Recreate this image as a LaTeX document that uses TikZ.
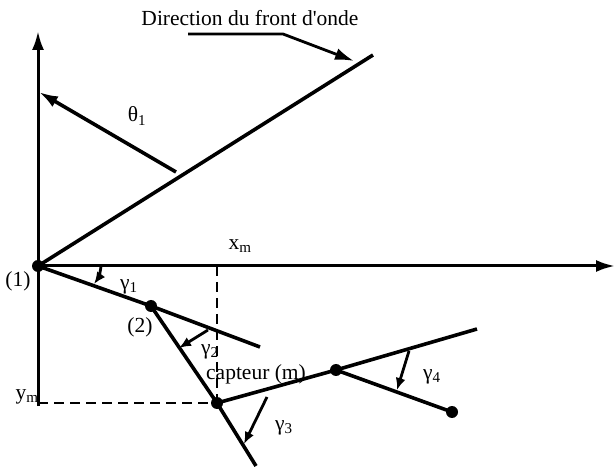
\documentclass[tikz,border=0pt]{standalone}
\usepackage{fontspec}
\setmainfont{Liberation Serif}
\usetikzlibrary{arrows.meta}
\begin{document}
\begin{tikzpicture}[x=1pt,y=-1pt,
  thickline/.style={line width=3.6pt},
  axisline/.style={line width=3pt},
  arr/.style={-{Latex[length=19pt,width=12pt]}},
  smallarr/.style={line width=2.8pt,-{Latex[length=12pt,width=10pt]}},
  dot/.style={circle,fill=black,inner sep=0pt,minimum size=12pt},
  lbl/.style={font=\fontsize{21.5}{24}\selectfont,inner sep=0pt},
  dashline/.style={line width=2.6pt,dash pattern=on 10pt off 6pt}]
\useasboundingbox (0,0) rectangle (616,470);
% points
\node[dot] (p1) at (38,266) {};
\node[dot] (p2) at (151,306) {};
\node[dot] (pm) at (217,403) {};
\node[dot] (p4) at (336,370) {};
\node[dot] (p5) at (452,412) {};
\coordinate (ytop) at (38,31);
\coordinate (ybot) at (38,406);
\coordinate (xend) at (615,266);
\coordinate (xmtop) at (217,266);
\coordinate (ymleft) at (38,403);
\coordinate (wf) at (373,55);
\coordinate (th0) at (176,172);
\coordinate (th1) at (39,92);
\coordinate (d0) at (188,34);
\coordinate (d1) at (283,34);
\coordinate (d2) at (354,61);
\coordinate (s1end) at (260,347);
\coordinate (s2end) at (256,466);
\coordinate (s3end) at (477,329);
% dashed projections
\draw[dashline] (xmtop) -- (pm.center);
\draw[dashline] (ymleft) -- (pm.center);
% axes
\draw[axisline,arr] (ybot) -- (ytop);
\draw[axisline,arr] (p1.center) -- (xend);
% wavefront
\draw[thickline] (p1.center) -- (wf);
\draw[thickline,arr] (th0) -- (th1);
\node[lbl] (dir) at (250,18) {Direction du front d\textquotesingle onde};
\draw[line width=2.8pt,arr] (d0) -- (d1) -- (d2);
% sensor chain
\draw[thickline] (p1.center) -- (p2.center) -- (s1end);
\draw[thickline] (p2.center) -- (pm.center) -- (s2end);
\draw[thickline] (pm.center) -- (p4.center) -- (s3end);
\draw[thickline] (p4.center) -- (p5.center);
% angle arrows
\coordinate (g1a) at (101,266);
\coordinate (g1b) at (94,284);
\coordinate (g2a) at (208,330);
\coordinate (g2b) at (179,348);
\coordinate (g3a) at (267,397);
\coordinate (g3b) at (244,444);
\coordinate (g4a) at (409,351);
\coordinate (g4b) at (397,390);
\draw[smallarr] (g1a) to[bend left=15] (g1b);
\draw[smallarr] (g2a) -- (g2b);
\draw[smallarr] (g3a) -- (g3b);
\draw[smallarr] (g4a) -- (g4b);
% labels
\node[lbl] (lth) at (137,116) {θ\textsubscript{1}};
\node[lbl] (lg1) at (129,287) {γ\textsubscript{1}};
\node[lbl] (lg2) at (210,352) {γ\textsubscript{2}};
\node[lbl] (lg3) at (284,428) {γ\textsubscript{3}};
\node[lbl] (lg4) at (432,377) {γ\textsubscript{4}};
\node[lbl] (lxm) at (240,246) {x\textsubscript{m}};
\node[lbl] (lym) at (27,397) {y\textsubscript{m}};
\node[lbl] (l1) at (18,281) {(1)};
\node[lbl] (l2) at (140,327) {(2)};
\node[lbl] (lcap) at (256,374) {capteur (m)};
\end{tikzpicture}
\end{document}
